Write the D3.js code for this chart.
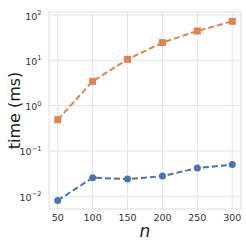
<!DOCTYPE html>
<html>
  <head>
    <meta charset="utf-8">
    <style>
      body { margin: 0; background: #fff; }
      text { font-family: "DejaVu Sans", sans-serif; }
    </style>
  </head>
  <body>
    <div id="chart"></div>
    <script src="https://d3js.org/d3.v7.min.js"></script>
    <script>
      var nValues   = [50, 100, 150, 200, 250, 300];
      var timeBlue  = [0.0081, 0.0257, 0.024, 0.0279, 0.042, 0.050];
      var timeOrange = [0.49, 3.44, 10.5, 24.6, 44.4, 72.5];
      var xTicks = [50, 100, 150, 200, 250, 300];
      var yTicks = [-2, -1, 0, 1, 2];

      var W = 246, H = 246;
      var margin = { top: 12, right: 5, bottom: 37, left: 49 };
      var width = W - margin.left - margin.right,
          height = H - margin.top - margin.bottom;

      var svg = d3.select("#chart").append("svg")
          .attr("width", W).attr("height", H);
      var g = svg.append("g")
          .attr("transform", "translate(" + margin.left + "," + margin.top + ")");

      var x = d3.scaleLinear().domain([37.5, 312.5]).range([0, width]);
      var y = d3.scaleLog().domain([Math.pow(10, -2.28), Math.pow(10, 2.066)]).range([height, 0]);

      // grid
      g.selectAll(".gx").data(xTicks).enter().append("line")
          .attr("x1", d => x(d)).attr("x2", d => x(d))
          .attr("y1", 0).attr("y2", height)
          .attr("stroke", "#e5e5e5").attr("stroke-width", 1);
      g.selectAll(".gy").data(yTicks).enter().append("line")
          .attr("x1", 0).attr("x2", width)
          .attr("y1", d => y(Math.pow(10, d))).attr("y2", d => y(Math.pow(10, d)))
          .attr("stroke", "#e5e5e5").attr("stroke-width", 1);

      // frame
      g.append("rect").attr("width", width).attr("height", height)
          .attr("fill", "none").attr("stroke", "#dddddd").attr("stroke-width", 1);

      // x ticks
      g.selectAll(".xt").data(xTicks).enter().append("text")
          .attr("x", d => x(d)).attr("y", height + 12)
          .attr("text-anchor", "middle")
          .attr("font-size", 9.5).attr("fill", "#333")
          .text(d => d);

      // y ticks
      var yt = g.selectAll(".yt").data(yTicks).enter().append("text")
          .attr("x", -7.5).attr("y", d => y(Math.pow(10, d)) + 4.5)
          .attr("text-anchor", "end")
          .attr("font-size", 9.5).attr("fill", "#333");
      yt.append("tspan").text("10");
      yt.append("tspan").attr("dy", -4.5).attr("font-size", 6.7)
          .text(d => d < 0 ? "\u2212" + (-d) : d);

      // labels
      svg.append("text")
          .attr("transform", "translate(20," + (margin.top + height / 2) + ")rotate(-90)")
          .attr("text-anchor", "middle").attr("font-size", 16).attr("fill", "#222")
          .text("time (ms)");
      svg.append("text")
          .attr("x", margin.left + width / 2).attr("y", 237)
          .attr("text-anchor", "middle").attr("font-size", 17)
          .attr("font-style", "italic").attr("fill", "#222")
          .text("n");

      var line = d3.line().x(d => x(d[0])).y(d => y(d[1]));

      function series(vals, color, marker) {
        var pts = nValues.map((n, i) => [n, vals[i]]);
        g.append("path").datum(pts).attr("d", line)
            .attr("fill", "none").attr("stroke", color)
            .attr("stroke-width", 2).attr("stroke-dasharray", "6,3");
        if (marker === "circle") {
          g.selectAll(null).data(pts).enter().append("circle")
              .attr("cx", d => x(d[0])).attr("cy", d => y(d[1]))
              .attr("r", 3.5).attr("fill", color);
        } else {
          g.selectAll(null).data(pts).enter().append("rect")
              .attr("x", d => x(d[0]) - 3.5).attr("y", d => y(d[1]) - 3.5)
              .attr("width", 7).attr("height", 7).attr("fill", color);
        }
      }
      series(timeBlue, "#4c72b0", "circle");
      series(timeOrange, "#dd8452", "square");
    </script>
  </body>
</html>
